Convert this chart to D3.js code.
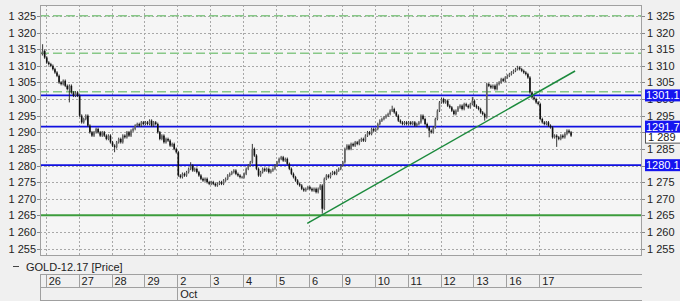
<!DOCTYPE html>
<html><head><meta charset="utf-8">
<script src="https://cdn.jsdelivr.net/npm/d3@7"></script>
<style>
body{margin:0;background:#f0f0f0;}
svg{display:block;font-family:"Liberation Sans",Arial,sans-serif;}
</style>
</head><body><svg id="c" width="680" height="301"></svg>
<script>
// ---------- data ----------
const days = ["26","27","28","29","2","3","4","5","6","9","10","11","12","13","16","17"];
const monthLabels = [{label:"Oct", day:4}];
const yTicks = [1255,1260,1265,1270,1275,1280,1285,1290,1295,1300,1305,1310,1315,1320,1325];
const rightHidden = [1280,1290]; // right-axis labels covered by price boxes
const barsPerDay = 16;
const firstOpen = 1314;
const preCloses = [1313.5, 1314.5, 1312.5]; // tail of Sep 25
const dayCloses = [
  [1311,1310.5,1310,1309,1308,1307,1305,1304.5,1305.5,1304,1303,1304,1302,1301,1302,1301],          // 26
  [1295,1293,1294,1295,1292,1290,1289,1290,1291,1290,1289,1290,1289,1288,1289,1287],                // 27
  [1286,1285.5,1287,1288,1287,1289,1288.5,1290,1289,1290.5,1291,1292,1292.5,1292,1293,1292.5],      // 28
  [1293,1292.5,1293.5,1292,1293,1292.5,1290,1288,1289,1287,1288,1287.5,1286,1286.5,1285,1284],      // 29
  [1277,1276.5,1277.5,1277,1278,1279,1280,1278.5,1279,1278,1277,1276,1275.5,1276,1275,1274.5],      // 2 Oct
  [1275,1274.5,1274,1274.5,1275,1274.5,1275.5,1276,1277,1277.5,1278,1278.5,1277.5,1277,1276.5,1276.5], // 3
  [1277.5,1279,1280,1281,1285,1283,1279,1277,1278,1279,1278.5,1279,1278,1278.5,1279,1280],          // 4
  [1281,1282,1282.5,1281.5,1282,1280.5,1279,1277.5,1276.5,1275.5,1274.5,1274,1273,1272.5,1273,1273.5], // 5
  [1273,1272.5,1273,1272,1273,1274,1267,1276,1277,1276.5,1277.5,1278,1277.5,1278.5,1279,1280],      // 6
  [1281,1285,1286,1285,1286.5,1286,1287,1286.5,1287.5,1288,1287.5,1289,1290,1289.5,1291,1290.5],    // 9
  [1291,1292.5,1293.5,1294,1294.5,1295,1295.5,1296.5,1297,1296,1295,1293.5,1293,1292.5,1293,1292.5], // 10
  [1293,1292.5,1293,1292,1292.5,1293,1295,1294,1292.5,1291.5,1290.5,1290,1291.5,1294,1296.5,1299],  // 11
  [1300,1299,1299.5,1298,1297.5,1296.5,1295.5,1296.5,1297.5,1298,1297,1298.5,1298,1297.5,1298.5,1299.5], // 12
  [1298,1297.5,1297,1296,1295.5,1294.5,1304.5,1304,1303.5,1304,1303,1304.5,1305,1306,1305.5,1306.5], // 13
  [1307,1307.5,1308,1308.5,1309,1309.5,1309,1308.5,1308,1307.5,1306.5,1302,1300.5,1300,1299,1298.5], // 16
  [1294,1293,1292.5,1293,1292,1291.5,1288.5,1289,1288.5,1288,1289,1288.5,1289.5,1290.5,1290,1289]   // 17
];
const wickOverrides = [
  {day:-1,bar:14,high:1316.5},{day:0,bar:11,low:1299},{day:2,bar:1,low:1284},
  {day:4,bar:6,high:1281},{day:6,bar:4,high:1286.5},{day:8,bar:6,low:1265.5},
  {day:10,bar:8,high:1298},{day:11,bar:10,low:1288.5},{day:12,bar:15,high:1300.6},
  {day:13,bar:5,low:1293.5},{day:14,bar:5,high:1310},{day:15,bar:8,low:1285.6}
];
const blueLevels = [1301.1, 1291.7, 1280.1];
const dashedLevels = [1325.1, 1313.8, 1302.2];
const supportLevels = [1265];
const trendPoints = [[7.95,1262.6],[16.09,1308.45]];
const lastPrice = 1289;
const seriesName = "GOLD-12.17 [Price]";

// ---------- layout ----------
const plot = {l:40, t:5, r:642, b:255};
const x = d3.scaleLinear().domain([0,16]).range([45.7, 572.1]);
const y = d3.scaleLinear().domain([1255,1325]).range([248.6, 16]);
const svg = d3.select("#c");
const fmt = v => { const s = String(v); return s.length > 3 ? s.slice(0,-3) + " " + s.slice(-3) : s; };

// bars
const bars = []; let prev = firstOpen;
preCloses.forEach((c,i) => { bars.push({day:-1, bar:barsPerDay-preCloses.length+i, open:prev, close:c}); prev = c; });
dayCloses.forEach((arr,d) => arr.forEach((c,k) => { bars.push({day:d, bar:k, open:prev, close:c}); prev = c; }));
bars.forEach(b => {
  b.high = Math.max(b.open,b.close) + 0.4;
  b.low = Math.min(b.open,b.close) - 0.4;
  const o = wickOverrides.find(w => w.day === b.day && w.bar === b.bar);
  if (o) { if (o.high) b.high = o.high; if (o.low) b.low = o.low; }
  b.t = b.day + (b.bar + 0.5) / barsPerDay;
});

// plot background
svg.append("rect").attr("x",plot.l).attr("y",plot.t).attr("width",plot.r-plot.l).attr("height",plot.b-plot.t).attr("fill","#f5f5f5");
svg.append("clipPath").attr("id","clip").append("rect").attr("x",plot.l).attr("y",plot.t).attr("width",plot.r-plot.l).attr("height",plot.b-plot.t);
const g = svg.append("g").attr("clip-path","url(#clip)");

// dotted grid
g.selectAll(".hg").data(yTicks).join("line")
  .attr("x1",plot.l).attr("x2",plot.r).attr("y1",d=>Math.round(y(d))+0.5).attr("y2",d=>Math.round(y(d))+0.5)
  .attr("stroke","#a8a8a8").attr("stroke-dasharray","2,2");
g.selectAll(".vg").data(days.map((d,i)=>i)).join("line")
  .attr("x1",d=>Math.round(x(d))+0.5).attr("x2",d=>Math.round(x(d))+0.5).attr("y1",plot.t).attr("y2",plot.b)
  .attr("stroke","#a8a8a8").attr("stroke-dasharray","2,2");

// dashed green levels
g.selectAll(".dl").data(dashedLevels).join("line")
  .attr("x1",plot.l).attr("x2",plot.r).attr("y1",d=>y(d)).attr("y2",d=>y(d))
  .attr("stroke","#88c888").attr("stroke-width",1.5).attr("stroke-dasharray","9,4");
// blue levels
g.selectAll(".bl").data(blueLevels).join("line")
  .attr("x1",plot.l).attr("x2",plot.r).attr("y1",d=>y(d)).attr("y2",d=>y(d))
  .attr("stroke","#1010e0").attr("stroke-width",1.8);
// support
g.selectAll(".sl").data(supportLevels).join("line")
  .attr("x1",plot.l).attr("x2",plot.r).attr("y1",d=>y(d)).attr("y2",d=>y(d))
  .attr("stroke","#3c9c3c").attr("stroke-width",2);

// candles
const cg = g.append("g");
cg.selectAll(".wick").data(bars).join("line")
  .attr("x1",d=>x(d.t)).attr("x2",d=>x(d.t)).attr("y1",d=>y(d.high)).attr("y2",d=>y(d.low))
  .attr("stroke","#222").attr("stroke-width",0.9);
cg.selectAll(".body").data(bars).join("rect")
  .attr("x",d=>x(d.t)-0.8).attr("width",1.6)
  .attr("y",d=>y(Math.max(d.open,d.close)))
  .attr("height",d=>Math.max(1,Math.abs(y(d.open)-y(d.close))))
  .attr("fill",d=>d.close>=d.open?"#666":"#111");

// trend line
g.append("line")
  .attr("x1",x(trendPoints[0][0])).attr("y1",y(trendPoints[0][1]))
  .attr("x2",x(trendPoints[1][0])).attr("y2",y(trendPoints[1][1]))
  .attr("stroke","#1b8a3c").attr("stroke-width",1.5);

// frame
svg.append("rect").attr("x",plot.l+0.5).attr("y",plot.t+0.5).attr("width",plot.r-plot.l-1).attr("height",plot.b-plot.t)
  .attr("fill","none").attr("stroke","#a0a0a0");

// left axis
svg.selectAll(".ly").data(yTicks).join("text")
  .attr("x",36).attr("y",d=>y(d)+4).attr("text-anchor","end").attr("font-size",11).attr("fill","#222").text(fmt);
svg.selectAll(".lt").data(yTicks).join("line")
  .attr("x1",plot.l-3).attr("x2",plot.l).attr("y1",d=>Math.round(y(d))+0.5).attr("y2",d=>Math.round(y(d))+0.5).attr("stroke","#888");
// right axis
svg.selectAll(".ry").data(yTicks.filter(v=>!rightHidden.includes(v))).join("text")
  .attr("x",647).attr("y",d=>y(d)+4).attr("font-size",11).attr("fill","#222").text(fmt);
svg.selectAll(".rt").data(yTicks).join("line")
  .attr("x1",plot.r).attr("x2",plot.r+3).attr("y1",d=>Math.round(y(d))+0.5).attr("y2",d=>Math.round(y(d))+0.5).attr("stroke","#888");

// last price box
svg.append("rect").attr("x",645.5).attr("y",y(lastPrice)-4.5).attr("width",40).attr("height",12)
  .attr("fill","#fff").attr("stroke","#555");
svg.append("text").attr("x",648).attr("y",y(lastPrice)+5.5).attr("font-size",11).attr("fill","#222").text(fmt(lastPrice));
// blue boxes
const bb = svg.selectAll(".bb").data(blueLevels).join("g");
bb.append("rect").attr("x",645).attr("y",d=>y(d)-6).attr("width",40).attr("height",12).attr("fill","#1515f0");
bb.append("text").attr("x",646).attr("y",d=>y(d)+4).attr("font-size",11).attr("fill","#fff").text(d=>d.toFixed(1));

// legend
svg.append("line").attr("x1",13).attr("x2",19).attr("y1",266.5).attr("y2",266.5).attr("stroke","#444");
svg.append("text").attr("x",26).attr("y",270.5).attr("font-size",11).attr("fill","#222").text(seriesName);

// bottom date axis
const ax = svg.append("g").attr("stroke","#a0a0a0").attr("shape-rendering","crispEdges");
ax.append("line").attr("x1",plot.l).attr("x2",plot.r).attr("y1",274.5).attr("y2",274.5);
ax.append("line").attr("x1",plot.l).attr("x2",plot.r).attr("y1",287.5).attr("y2",287.5);
ax.append("line").attr("x1",plot.l).attr("x2",plot.r).attr("y1",300.5).attr("y2",300.5);
ax.append("line").attr("x1",plot.l+0.5).attr("x2",plot.l+0.5).attr("y1",274).attr("y2",301);
ax.selectAll(".ds").data(days.map((d,i)=>i)).join("line")
  .attr("x1",d=>Math.round(x(d))+0.5).attr("x2",d=>Math.round(x(d))+0.5).attr("y1",274).attr("y2",287);
ax.selectAll(".ms").data(monthLabels).join("line")
  .attr("x1",d=>Math.round(x(d.day))+0.5).attr("x2",d=>Math.round(x(d.day))+0.5).attr("y1",287).attr("y2",301);
svg.selectAll(".dl2").data(days).join("text")
  .attr("x",(d,i)=>x(i)+3).attr("y",285).attr("font-size",11).attr("fill","#222").text(d=>d);
svg.selectAll(".ml").data(monthLabels).join("text")
  .attr("x",d=>x(d.day)+3).attr("y",297.5).attr("font-size",11).attr("fill","#222").text(d=>d.label);
</script>
</body></html>
